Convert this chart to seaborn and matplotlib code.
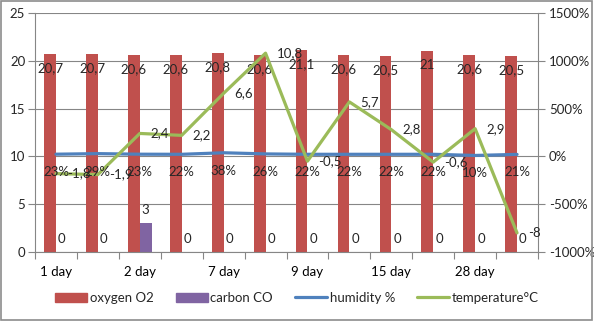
import numpy as np
import pandas as pd
import matplotlib
matplotlib.use("Agg")
import matplotlib.pyplot as plt
import seaborn as sns
from matplotlib.patches import Rectangle
from matplotlib.lines import Line2D
from matplotlib.ticker import FuncFormatter, FixedLocator

# data
day_labels = ["1 day", "", "2 day", "", "7 day", "", "9 day", "", "15 day", "", "28 day", ""]
oxygen = [20.7, 20.7, 20.6, 20.6, 20.8, 20.6, 21.1, 20.6, 20.5, 21.0, 20.6, 20.5]
carbon = [0, 0, 3, 0, 0, 0, 0, 0, 0, 0, 0, 0]
humidity = [0.23, 0.29, 0.23, 0.22, 0.38, 0.26, 0.22, 0.22, 0.22, 0.22, 0.10, 0.21]
temperature = [-1.8, -1.9, 2.4, 2.2, 6.6, 10.8, -0.5, 5.7, 2.8, -0.6, 2.9, -8.0]

RED, PURPLE, BLUE, GREEN = "#C0504D", "#8064A2", "#4F81BD", "#9BBB59"
GRID = "#868686"
FS = 9.5

sns.set_theme(style="white")
plt.rcParams["font.family"] = ["Lato", "DejaVu Sans"]
plt.rcParams["font.size"] = FS

idx = np.arange(len(oxygen))
bars = pd.DataFrame({"idx": np.tile(idx, 2),
                     "value": oxygen + carbon,
                     "series": ["oxygen O2"] * len(idx) + ["carbon CO"] * len(idx)})

fig = plt.figure(figsize=(5.94, 3.21), dpi=100)
ax = fig.add_axes([35 / 594, 1 - 252 / 321, 503 / 594, 239 / 321])

sns.barplot(data=bars, x="idx", y="value", hue="series",
            palette=[RED, PURPLE], width=0.56, ax=ax, legend=False,
            saturation=1, edgecolor="none")
ax.set_xlim(-0.5, len(idx) - 0.5)
ax.set_ylim(0, 25)
ax.set_yticks([0, 5, 10, 15, 20, 25])
ax.yaxis.grid(True, color=GRID, lw=0.8)
ax.set_axisbelow(True)
ax.set_xlabel("")
ax.set_ylabel("")
ax.set_xticks(idx)
ax.set_xticklabels(day_labels)
ax.xaxis.set_minor_locator(FixedLocator(np.arange(-0.5, len(idx), 1)))
ax.tick_params(axis="x", which="major", length=0, pad=10, labelsize=FS, colors="black")
ax.tick_params(axis="x", which="minor", length=5, width=0.8, color=GRID, direction="out", bottom=True)
ax.tick_params(axis="y", length=5, width=0.8, color=GRID, direction="out", left=True, pad=2, labelsize=FS)
for s in ["top", "right"]:
    ax.spines[s].set_visible(False)
for s in ["left", "bottom"]:
    ax.spines[s].set_color(GRID)
    ax.spines[s].set_linewidth(0.8)

# bar labels
for i, v in enumerate(oxygen):
    ax.annotate(f"{v:g}".replace(".", ","), (i - 0.14, v), xytext=(0, -10),
                textcoords="offset points", ha="center", va="center", fontsize=FS)
for i, v in enumerate(carbon):
    ax.annotate(f"{v:g}".replace(".", ","), (i + 0.14, v), xytext=(0, 9.5),
                textcoords="offset points", ha="center", va="center", fontsize=FS)

ax2 = ax.twinx()
ax2.set_position(ax.get_position())
sns.lineplot(x=idx, y=humidity, ax=ax2, color=BLUE, lw=2.3)
sns.lineplot(x=idx, y=temperature, ax=ax2, color=GREEN, lw=2.3)
ax2.set_ylim(-10, 15)
ax2.set_yticks([-10, -5, 0, 5, 10, 15])
ax2.yaxis.set_major_formatter(FuncFormatter(lambda v, p: f"{v * 100:.0f}%"))
ax2.tick_params(axis="y", length=5, width=0.8, color=GRID, direction="out", right=True, pad=3, labelsize=FS)
ax2.set_ylabel("")
for s in ["top", "left", "bottom"]:
    ax2.spines[s].set_visible(False)
ax2.spines["right"].set_color(GRID)
ax2.spines["right"].set_linewidth(0.8)

for i, v in enumerate(humidity):
    ax2.annotate(f"{v * 100:.0f}%", (i, v), xytext=(0, -13),
                 textcoords="offset points", ha="center", va="center", fontsize=FS)
for i, v in enumerate(temperature):
    ax2.annotate(f"{v:g}".replace(".", ","), (i, v), xytext=(8, 0),
                 textcoords="offset points", ha="left", va="center", fontsize=FS)

handles = [Rectangle((0, 0), 1, 1, color=RED), Rectangle((0, 0), 1, 1, color=PURPLE),
           Line2D([], [], color=BLUE, lw=2.3), Line2D([], [], color=GREEN, lw=2.3)]
fig.legend(handles, ["oxygen O2", "carbon CO", "humidity %", "temperature°C"],
           loc="center", bbox_to_anchor=(0.5, 1 - 298 / 321), ncol=4, frameon=False,
           fontsize=FS, handlelength=2.4, handleheight=0.7, columnspacing=1.7, handletextpad=0.2)

fig.patches.append(Rectangle((0.002, 0.003), 0.995, 0.994, transform=fig.transFigure,
                             fill=False, edgecolor="#8c8c8c", lw=1.2))

fig.savefig("out.png", dpi=100)
